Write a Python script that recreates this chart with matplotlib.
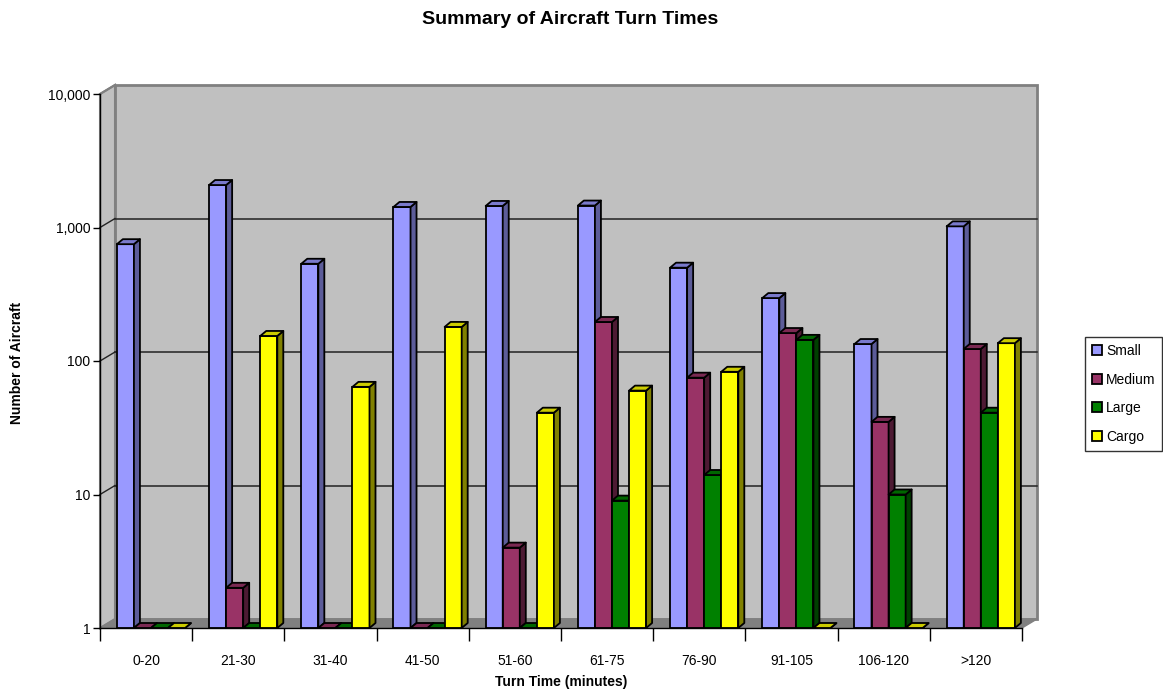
import numpy as np
import matplotlib
matplotlib.use('Agg')
import matplotlib.pyplot as plt
from matplotlib.patches import Polygon, Rectangle, Patch
from matplotlib.lines import Line2D
from matplotlib.transforms import IdentityTransform
from matplotlib.ticker import FixedLocator, FixedFormatter, NullLocator

plt.rcParams['font.family'] = ['Liberation Sans', 'DejaVu Sans']

categories = ['0-20', '21-30', '31-40', '41-50', '51-60', '61-75',
              '76-90', '91-105', '106-120', '>120']
series_names = ['Small', 'Medium', 'Large', 'Cargo']
small = [750, 2080, 535, 1425, 1450, 1460, 500, 296, 134, 1020]
medium = [0, 2, 0, 0, 4, 196, 75, 162, 35, 123]
large = [0, 0, 0, 0, 0, 9, 14, 144, 10, 41]
cargo = [0, 154, 64, 180, 41, 60, 83, 0, 0, 136]

front_colors = ['#9999FF', '#993366', '#008000', '#FFFF00']
top_colors = ['#7A7ACC', '#7A2952', '#006600', '#CCCC00']
side_colors = ['#5C5C99', '#4D1A33', '#004000', '#808000']

W, H = 1163, 689
fig = plt.figure(figsize=(W / 100, H / 100), dpi=100)
ax = fig.add_axes([100 / W, 1 - 628 / H, 922 / W, 534 / H])
ax.set_yscale('log')
ax.set_xlim(-0.5, len(categories) - 0.5)
ax.set_ylim(1, 10000)
ax.patch.set_visible(False)
for s in ['top', 'right']:
    ax.spines[s].set_visible(False)
for s in ['left', 'bottom']:
    ax.spines[s].set_color('black')
    ax.spines[s].set_linewidth(1.0)

# y axis
yt = [1, 10, 100, 1000, 10000]
ax.yaxis.set_major_locator(FixedLocator(yt))
ax.yaxis.set_major_formatter(FixedFormatter(['1', '10', '100', '1,000', '10,000']))
ax.yaxis.set_minor_locator(NullLocator())
ax.tick_params(axis='y', which='major', direction='out', length=5, width=1,
               pad=2, labelsize=10)

# x axis: boundary ticks + centered labels
ax.xaxis.set_major_locator(FixedLocator(np.arange(len(categories) + 1) - 0.5))
ax.xaxis.set_major_formatter(FixedFormatter([''] * (len(categories) + 1)))
ax.xaxis.set_minor_locator(FixedLocator(np.arange(len(categories))))
ax.xaxis.set_minor_formatter(FixedFormatter(categories))
ax.tick_params(axis='x', which='major', direction='out', length=9, width=1)
ax.tick_params(axis='x', which='minor', length=0, pad=19, labelsize=10)

fig.canvas.draw()
idt = IdentityTransform()
wdx, wdy = 15, 9   # wall depth in pixels
bdx, bdy = 6, 5    # bar depth in pixels

(x0, y0), (x1, y1) = ax.transAxes.transform([(0, 0), (1, 1)])

# back wall, left wall, floor
ax.add_patch(Rectangle((x0 + wdx, y0 + wdy), x1 - x0, y1 - y0, transform=idt,
                       facecolor='#C0C0C0', edgecolor='#808080', lw=2,
                       clip_on=False, zorder=0.3))
ax.add_patch(Polygon([(x0, y0), (x0, y1), (x0 + wdx, y1 + wdy), (x0 + wdx, y0 + wdy)],
                     transform=idt, facecolor='#C0C0C0', edgecolor='#808080', lw=1.5,
                     clip_on=False, zorder=0.35))
ax.add_patch(Polygon([(x0, y0), (x1, y0), (x1 + wdx, y0 + wdy), (x0 + wdx, y0 + wdy)],
                     transform=idt, facecolor='#808080', edgecolor='#808080', lw=1,
                     clip_on=False, zorder=0.4))

# gridlines on back wall + left wall diagonals
for v in [10, 100, 1000]:
    yv = ax.transData.transform((0, v))[1]
    ax.add_line(Line2D([x0 + wdx, x1 + wdx], [yv + wdy, yv + wdy], transform=idt,
                       color='#222222', lw=1.1, clip_on=False, zorder=0.5))
    ax.add_line(Line2D([x0, x0 + wdx], [yv, yv + wdy], transform=idt,
                       color='#222222', lw=1.0, clip_on=False, zorder=0.5))
ax.add_line(Line2D([x0, x0 + wdx], [y1, y1 + wdy], transform=idt,
                   color='#808080', lw=1.5, clip_on=False, zorder=0.5))

# bars
data = [small, medium, large, cargo]
bw = 0.185
shift = 0.053
for i in range(len(categories)):
    for j, vals in enumerate(data):
        v = max(vals[i], 1)
        xc = i + shift + (j - 1.5) * bw
        ax.bar(xc, v - 1, bottom=1, width=bw, color=front_colors[j],
               edgecolor='black', lw=1.3, zorder=2, clip_on=False)
        (xl, yb), (xr, ytp) = ax.transData.transform([(xc - bw / 2, 1), (xc + bw / 2, v)])
        ax.add_patch(Polygon([(xr, yb), (xr, ytp), (xr + bdx, ytp + bdy), (xr + bdx, yb + bdy)],
                             transform=idt, facecolor=side_colors[j], edgecolor='black',
                             lw=1.3, joinstyle='round', clip_on=False, zorder=2))
        ax.add_patch(Polygon([(xl, ytp), (xr, ytp), (xr + bdx, ytp + bdy), (xl + bdx, ytp + bdy)],
                             transform=idt, facecolor=top_colors[j], edgecolor='black',
                             lw=1.3, joinstyle='round', clip_on=False, zorder=2))

fig.text(570 / W, 1 - 20 / H, 'Summary of Aircraft Turn Times', ha='center', va='center',
         fontsize=14, fontweight='bold')
fig.text(561 / W, 1 - 682 / H, 'Turn Time (minutes)', ha='center', va='center',
         fontsize=10, fontweight='bold')
fig.text(17 / W, 1 - 363 / H, 'Number of Aircraft', ha='center', va='center',
         rotation=90, fontsize=10, fontweight='bold')

handles = [Patch(facecolor=c, edgecolor='black', lw=1.3) for c in front_colors]
leg = fig.legend(handles, series_names, loc='upper left',
                 bbox_to_anchor=(1085 / W, 1 - 337 / H), frameon=True, fancybox=False,
                 edgecolor='black', fontsize=10, handlelength=0.7, handleheight=0.7,
                 handletextpad=0.3, labelspacing=1.05, borderpad=0.5, borderaxespad=0)
leg.get_frame().set_linewidth(1.0)

fig.savefig('out.png', dpi=100)
